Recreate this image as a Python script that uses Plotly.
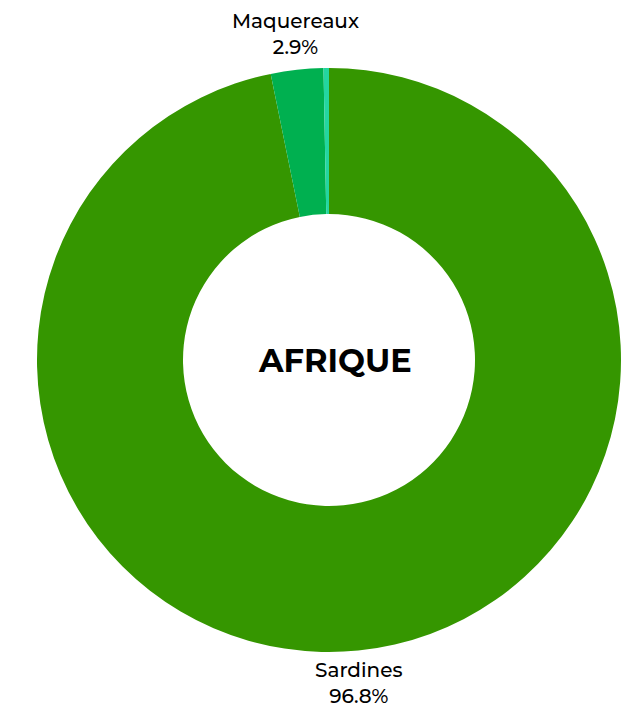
import math
import plotly.graph_objects as go

labels = ["Sardines", "Maquereaux", "Autres"]
values = [96.8, 2.9, 0.3]
colors = ["#359600", "#00b050", "#24d6a0"]
show_label = [True, True, False]
center_title = "AFRIQUE"

W, H = 631, 712
dom_x = [29 / W, 613 / W]
dom_y = [68 / H, 652 / H]
hole = 0.5

fig = go.Figure(go.Pie(
    labels=labels,
    values=values,
    textinfo="none",
    hole=hole,
    sort=False,
    direction="clockwise",
    rotation=0,
    domain=dict(x=dom_x, y=dom_y),
    marker=dict(colors=colors, line=dict(color="white", width=0)),
    showlegend=False,
    hoverinfo="label+percent",
))

# outside labels centred on each slice's mid-angle
cx = (dom_x[0] + dom_x[1]) / 2
cy = (dom_y[0] + dom_y[1]) / 2
r_px = min((dom_x[1] - dom_x[0]) * W, (dom_y[1] - dom_y[0]) * H) / 2
total = sum(values)
cum = 0.0
for lab, v, show in zip(labels, values, show_label):
    mid = (cum + v / 2) / total * 2 * math.pi
    cum += v
    if not show:
        continue
    pct = v / total * 100
    top = math.cos(mid) > 0
    gap = 9 if top else 5
    dx = (r_px + gap) * math.sin(mid) / W
    dy = (r_px + gap) * math.cos(mid) / H
    fig.add_annotation(
        text=f"{lab}<br>{pct:.1f}%",
        x=cx + dx, y=cy + dy, xref="paper", yref="paper",
        xanchor="center", yanchor="bottom" if top else "top",
        showarrow=False, align="center",
        font=dict(family="Montserrat, Lato, sans-serif", size=20, color="#000000", weight=500),
    )

fig.add_annotation(
    text="<b>" + center_title + "</b>",
    x=cx + 6 / W, y=cy, xref="paper", yref="paper", showarrow=False,
    xanchor="center", yanchor="middle",
    font=dict(family="Montserrat, Lato, sans-serif", size=32, color="#000000"),
)
fig.update_layout(
    width=W, height=H,
    margin=dict(l=0, r=0, t=0, b=0),
    paper_bgcolor="white", plot_bgcolor="white",
)
fig.write_html("out.html")
